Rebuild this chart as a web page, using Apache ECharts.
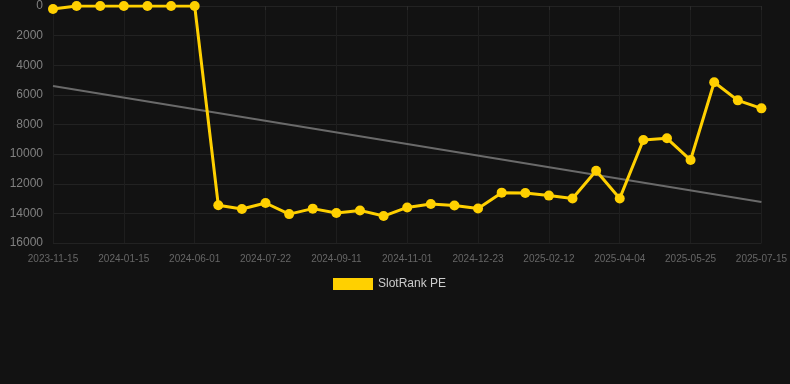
<!DOCTYPE html>
<html>
<head>
<meta charset="utf-8">
<script src="https://cdn.jsdelivr.net/npm/echarts@6/dist/echarts.min.js"></script>
<style>
html,body{margin:0;padding:0;background:#121212;}
#chart{width:790px;height:384px;}
</style>
</head>
<body>
<div id="chart"></div>
<script>
const categories = [
  '2023-11-15','2023-12-05','2023-12-25','2024-01-15','2024-02-28','2024-04-15','2024-06-01',
  '2024-06-18','2024-07-05','2024-07-22','2024-08-08','2024-08-25','2024-09-11','2024-09-28',
  '2024-10-15','2024-11-01','2024-11-18','2024-12-05','2024-12-23','2025-01-09','2025-01-26',
  '2025-02-12','2025-03-01','2025-03-18','2025-04-04','2025-04-21','2025-05-08','2025-05-25',
  '2025-06-11','2025-06-28','2025-07-15'
];
const rankValues = [
  200, 0, 0, 0, 0, 0, 0,
  13450, 13700, 13300, 14050, 13680, 13980, 13800,
  14180, 13600, 13370, 13470, 13670, 12600, 12620,
  12800, 12990, 11120, 12990, 9050, 8930, 10400,
  5150, 6370, 6910
];
const trendEnds = [5400, 13230];
const yTicks = { min: 0, max: 16000, interval: 2000 };

const trendData = categories.map((c, i) =>
  i === 0 ? trendEnds[0] : (i === categories.length - 1 ? trendEnds[1] : null));

const chart = echarts.init(document.getElementById('chart'));
chart.setOption({
  backgroundColor: '#121212',
  animation: false,
  grid: { left: 53, right: 28, top: 6, bottom: 141, containLabel: false },
  legend: {
    top: 273,
    left: 328,
    itemWidth: 40,
    itemHeight: 12,
    itemGap: 10,
    icon: 'rect',
    data: [{ name: 'SlotRank PE', icon: 'rect' }],
    textStyle: { color: '#cccccc', fontSize: 12, fontFamily: 'Arial, Liberation Sans, sans-serif' }
  },
  xAxis: {
    type: 'category',
    boundaryGap: false,
    data: categories,
    axisLine: { show: true, lineStyle: { color: '#222222' } },
    axisTick: { show: true, interval: 2, length: 4, lineStyle: { color: '#2a2a2a' } },
    axisLabel: { interval: 2, color: '#666666', fontSize: 10, margin: 11, fontFamily: 'Arial, Liberation Sans, sans-serif' },
    splitLine: { show: true, interval: 2, lineStyle: { color: '#1e1e1e' } }
  },
  yAxis: {
    type: 'value',
    inverse: true,
    min: yTicks.min,
    max: yTicks.max,
    interval: yTicks.interval,
    axisLine: { show: false },
    axisTick: { show: false },
    axisLabel: { color: '#808080', fontSize: 12, margin: 10, fontFamily: 'Arial, Liberation Sans, sans-serif',
      formatter: v => String(v) },
    splitLine: { show: true, lineStyle: { color: '#222222' } }
  },
  series: [
    {
      name: 'Trend',
      type: 'line',
      data: trendData,
      connectNulls: true,
      showSymbol: false,
      symbol: 'none',
      lineStyle: { color: '#6a6a6a', width: 2 },
      itemStyle: { color: '#6a6a6a' },
      z: 1,
      silent: true
    },
    {
      name: 'SlotRank PE',
      type: 'line',
      data: rankValues,
      symbol: 'circle',
      symbolSize: 10,
      lineStyle: { color: '#ffd000', width: 3 },
      itemStyle: { color: '#ffd000' },
      z: 3
    }
  ]
});
</script>
</body>
</html>
